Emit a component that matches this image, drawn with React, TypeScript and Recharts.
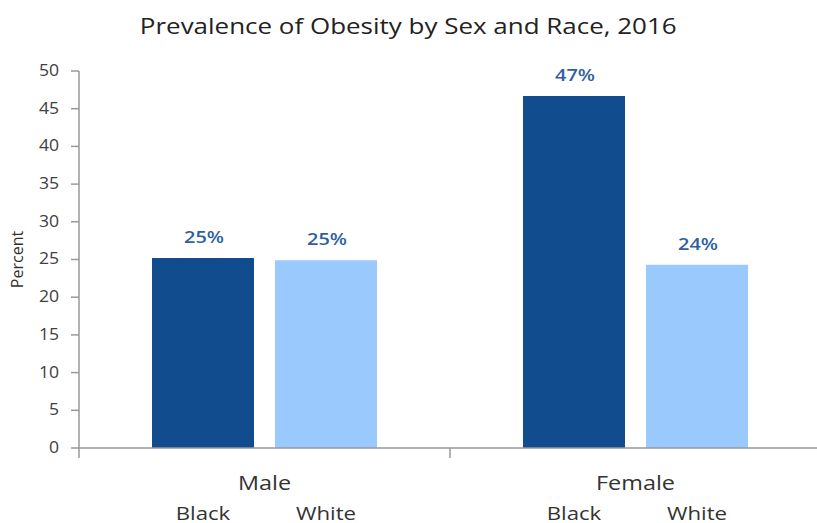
import { BarChart, Bar, XAxis, YAxis, LabelList } from 'recharts';

const sexes = ['Male', 'Female'];
const races = ['Black', 'White'];
const blackPct = [25.2, 46.7];
const whitePct = [24.9, 24.3];
const yTicks = [0, 5, 10, 15, 20, 25, 30, 35, 40, 45, 50];

const data = sexes.map((sex, i) => ({ sex, black: blackPct[i], white: whitePct[i] }));

const FONT = '"Open Sans", sans-serif';
const DARK = '#114c8e';
const LIGHT = '#99c9fd';
const LABEL_BLUE = '#2f5f9f';
const WIDEN = 1.17;

// horizontally widened text, anchored at its own x
function WideText({ x, y, size, fill = '#333', weight = 400, children }: any) {
  return (
    <text
      x={x}
      y={y}
      textAnchor="middle"
      fontSize={size}
      fontWeight={weight}
      fill={fill}
      fontFamily={FONT}
      transform={`translate(${x} 0) scale(${WIDEN} 1) translate(${-x} 0)`}
    >
      {children}
    </text>
  );
}

// sex label under the axis, plus a divider tick at the left edge of each band
function SexTick(props: any) {
  const { x, y, payload } = props;
  const left = x - (payload.offset || 0);
  return (
    <g>
      <line x1={left} y1={y} x2={left} y2={y + 10} stroke="#999" strokeWidth={1.5} />
      <WideText x={x} y={y + 42} size={20}>{payload.value}</WideText>
    </g>
  );
}

// race name drawn below each bar
const raceLabel = (race: string) => (props: any) => {
  const { x, y, width, height } = props;
  return <WideText x={x + width / 2} y={y + height + 72} size={19}>{race}</WideText>;
};

// percent value above each bar
const valueLabel = (props: any) => {
  const { x, y, width, value } = props;
  return (
    <WideText x={x + width / 2 + 1} y={y - 15} size={17} weight={600} fill={LABEL_BLUE}>
      {`${Math.round(value)}%`}
    </WideText>
  );
};

function YTick(props: any) {
  const { x, y, payload } = props;
  return (
    <text
      x={x}
      y={y}
      dy={5}
      textAnchor="end"
      fontSize={16}
      fill="#404040"
      fontFamily={FONT}
      transform={`translate(${x} 0) scale(1.1 1) translate(${-x} 0)`}
    >
      {payload.value}
    </text>
  );
}

function PercentLabel({ viewBox }: any) {
  const cx = viewBox.x + 19;
  const cy = viewBox.y + viewBox.height / 2;
  return (
    <text x={cx} y={cy} transform={`rotate(-90, ${cx}, ${cy})`} textAnchor="middle" dominantBaseline="middle" fontSize={16} fill="#333" fontFamily={FONT}>
      Percent
    </text>
  );
}

export default function App() {
  return (
    <div style={{ position: 'absolute', left: 0, top: 0, width: 817, height: 523, overflow: 'hidden', background: '#fff', fontFamily: FONT }}>
      <div
        style={{
          position: 'absolute',
          left: 0,
          top: 10,
          width: 817,
          textAlign: 'center',
          fontSize: 22,
          color: '#222',
          transform: 'scaleX(1.18)',
          transformOrigin: '410px 0',
        }}
      >
        Prevalence of Obesity by Sex and Race, 2016
      </div>
      <BarChart
        width={821}
        height={523}
        data={data}
        margin={{ top: 71, right: 0, bottom: 0, left: 0 }}
        barCategoryGap={73}
        barGap={21}
      >
        <XAxis
          dataKey="sex"
          height={75}
          tickLine={false}
          tickSize={0}
          tickMargin={0}
          axisLine={{ stroke: '#999', strokeWidth: 1.5 }}
          tick={<SexTick />}
          interval={0}
        />
        <YAxis
          width={79}
          domain={[0, 50]}
          ticks={yTicks}
          interval={0}
          tickSize={8}
          tickMargin={12}
          axisLine={{ stroke: '#999', strokeWidth: 1.5 }}
          tickLine={{ stroke: '#999', strokeWidth: 1.5 }}
          tick={<YTick />}
          label={{ content: <PercentLabel /> }}
        />
        <Bar dataKey="black" fill={DARK} isAnimationActive={false}>
          <LabelList dataKey="black" content={valueLabel} />
          <LabelList dataKey="black" content={raceLabel(races[0])} />
        </Bar>
        <Bar dataKey="white" fill={LIGHT} isAnimationActive={false}>
          <LabelList dataKey="white" content={valueLabel} />
          <LabelList dataKey="white" content={raceLabel(races[1])} />
        </Bar>
      </BarChart>
    </div>
  );
}
